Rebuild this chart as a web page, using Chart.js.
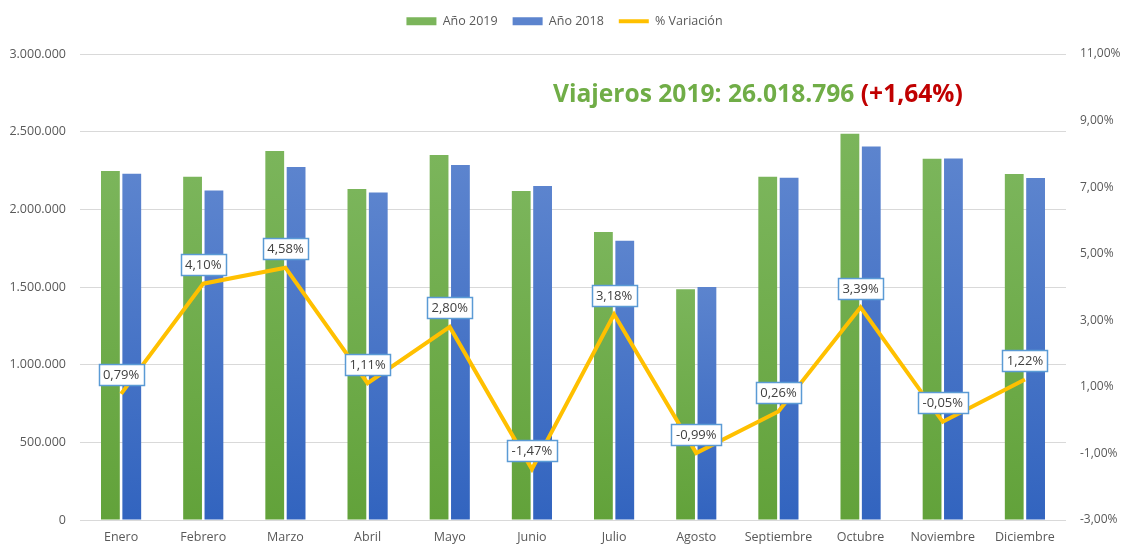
<!DOCTYPE html>
<html>
<head>
<meta charset="utf-8">
<script src="https://cdn.jsdelivr.net/npm/chart.js@4.4.0/dist/chart.umd.min.js"></script>
<style>
  html, body { margin: 0; padding: 0; background: #fff; }
  #wrap { width: 1121px; height: 545px; }
</style>
</head>
<body>
<div id="wrap"><canvas id="grafico"></canvas></div>
<script>
// datos
const meses = ['Enero', 'Febrero', 'Marzo', 'Abril', 'Mayo', 'Junio', 'Julio', 'Agosto', 'Septiembre', 'Octubre', 'Noviembre', 'Diciembre'];
const viajeros2019 = [2247000, 2209000, 2376000, 2131000, 2350000, 2118000, 1854000, 1485000, 2209000, 2486000, 2326000, 2228000];
const viajeros2018 = [2229000, 2122000, 2272000, 2108000, 2286000, 2150000, 1797000, 1500000, 2203000, 2404000, 2327000, 2201000];
const variacion = [0.79, 4.10, 4.58, 1.11, 2.80, -1.47, 3.18, -0.99, 0.26, 3.39, -0.05, 1.22];
const tituloTotal = 'Viajeros 2019: 26.018.796 ';
const tituloVar = '(+1,64%)';

const FUENTE = '"Open Sans", "Noto Sans", sans-serif';
const GRIS = '#595959';

function fmtPct(v) {
  return v.toFixed(2).replace('.', ',') + '%';
}

// degradado vertical por barra (más claro arriba)
function degradado(arriba, abajo) {
  return (ctx) => {
    const chart = ctx.chart;
    const area = chart.chartArea;
    if (!area || ctx.type !== 'data') return abajo;
    const yTop = chart.scales.y.getPixelForValue(ctx.raw);
    const g = chart.ctx.createLinearGradient(0, yTop, 0, area.bottom);
    g.addColorStop(0, arriba);
    g.addColorStop(1, abajo);
    return g;
  };
}

// alto fijo para la leyenda, deja hueco hasta el area del grafico
const altoLeyenda = {
  id: 'altoLeyenda',
  beforeInit(chart) {
    const fitOrig = chart.legend.fit;
    chart.legend.fit = function () {
      fitOrig.call(this);
      this.height = 54;
    };
  }
};

const etiquetas = {
  id: 'etiquetas',
  afterDatasetsDraw(chart) {
    const c = chart.ctx;
    const meta = chart.getDatasetMeta(2);
    c.save();
    c.font = '13px ' + FUENTE;
    c.textAlign = 'center';
    c.textBaseline = 'middle';
    meta.data.forEach((pt, i) => {
      const txt = fmtPct(variacion[i]);
      const w = Math.round(c.measureText(txt).width + 9);
      const h = 21;
      const x = Math.round(pt.x - w / 2) + 0.5;
      const y = Math.round(pt.y - 19 - h / 2) + 0.5;
      c.fillStyle = '#ffffff';
      c.fillRect(x, y, w, h);
      c.strokeStyle = '#5B9BD5';
      c.lineWidth = 1.5;
      c.strokeRect(x, y, w, h);
      c.fillStyle = '#404040';
      c.fillText(txt, pt.x, y + h / 2 + 0.5);
    });

    // titulo dentro del grafico
    const area = chart.chartArea;
    let size = 26;
    c.font = 'bold ' + size + 'px ' + FUENTE;
    const ancho = c.measureText(tituloTotal + tituloVar).width;
    size = Math.min(26, size * 410 / ancho);
    c.font = 'bold ' + size + 'px ' + FUENTE;
    const x0 = area.left + 473;
    const yc = area.top + 41;
    c.textAlign = 'left';
    c.fillStyle = '#70AD47';
    c.fillText(tituloTotal, x0, yc);
    const w1 = c.measureText(tituloTotal).width;
    c.fillStyle = '#C00000';
    c.fillText(tituloVar, x0 + w1, yc);
    c.restore();
  }
};

new Chart(document.getElementById('grafico'), {
  type: 'bar',
  data: {
    labels: meses,
    datasets: [
      {
        label: 'Año 2019',
        data: viajeros2019,
        backgroundColor: degradado('#7BB55B', '#62A23A'),
        borderWidth: 0,
        pointStyle: 'rect',
        yAxisID: 'y',
        order: 2
      },
      {
        label: 'Año 2018',
        data: viajeros2018,
        backgroundColor: degradado('#5C84CE', '#3264BF'),
        borderWidth: 0,
        pointStyle: 'rect',
        yAxisID: 'y',
        order: 2
      },
      {
        type: 'line',
        label: '% Variación',
        data: variacion,
        borderColor: '#FFC000',
        backgroundColor: '#FFC000',
        borderWidth: 4,
        pointRadius: 0,
        pointStyle: 'line',
        tension: 0,
        yAxisID: 'y2',
        order: 1
      }
    ]
  },
  options: {
    responsive: true,
    maintainAspectRatio: false,
    animation: false,
    categoryPercentage: 0.52,
    barPercentage: 0.88,
    layout: { padding: { left: 8, right: 0, top: 0, bottom: 0 } },
    plugins: {
      legend: {
        position: 'top',
        labels: {
          usePointStyle: true,
          pointStyleWidth: 30,
          boxHeight: 8,
          color: GRIS,
          font: { family: FUENTE, size: 12.5 },
          padding: 15,
          sort: (a, b) => a.datasetIndex - b.datasetIndex
        }
      },
      tooltip: { enabled: false }
    },
    scales: {
      x: {
        grid: { display: false, drawTicks: false },
        border: { display: false },
        ticks: { color: GRIS, font: { family: FUENTE, size: 12.5 }, padding: 10 },
        afterFit: (s) => { s.height = 25; }
      },
      y: {
        position: 'left',
        min: 0,
        max: 3000000,
        grid: { color: '#D9D9D9', drawTicks: false },
        border: { display: false },
        ticks: {
          stepSize: 500000,
          color: GRIS,
          padding: 14,
          font: { family: FUENTE, size: 12.5 },
          callback: (v) => v.toLocaleString('de-DE')
        },
        afterFit: (s) => { s.width = 72; }
      },
      y2: {
        position: 'right',
        min: -3,
        max: 11,
        grid: { display: false, drawTicks: false },
        border: { display: false },
        ticks: {
          stepSize: 2,
          color: GRIS,
          padding: 14,
          font: { family: FUENTE, size: 12 },
          callback: (v) => fmtPct(v)
        },
        afterFit: (s) => { s.width = 55; }
      }
    }
  },
  plugins: [altoLeyenda, etiquetas]
});
</script>
</body>
</html>
